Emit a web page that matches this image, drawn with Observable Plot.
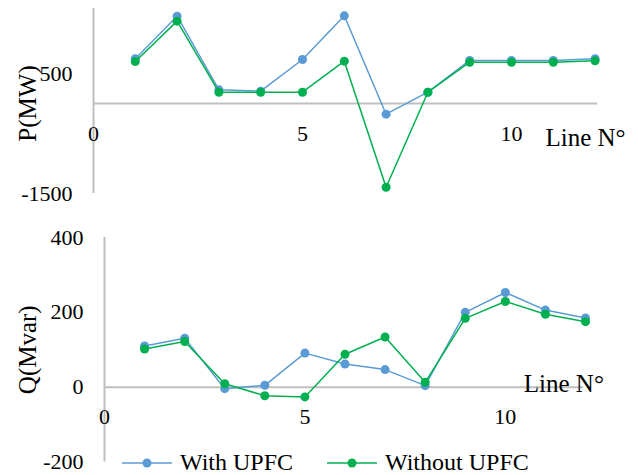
<!DOCTYPE html>
<html>
<head>
<meta charset="utf-8">
<script src="https://cdn.jsdelivr.net/npm/d3@7"></script>
<script src="https://cdn.jsdelivr.net/npm/@observablehq/plot@0.6"></script>
<style>
  html, body { margin: 0; padding: 0; background: #fff; }
  #wrap { position: relative; width: 638px; height: 475px; font-family: "Liberation Serif", "Times New Roman", serif; }
  #toppanel, #bottompanel { position: absolute; left: 0; }
  #toppanel { top: 0; }
  #bottompanel { top: 220px; }
  #legend { position: absolute; top: 449px; left: 0; width: 638px; height: 27px; font-size: 24px; color: #000; }
  .item { position: absolute; display: flex; align-items: center; white-space: nowrap; }
  .item svg { margin-right: 8px; }
  svg text { font-family: "Liberation Serif", "Times New Roman", serif !important; }
</style>
</head>
<body>
<div id="wrap">
  <div id="toppanel"></div>
  <div id="bottompanel"></div>
  <div id="legend"></div>
</div>
<script>
const lines = [1, 2, 3, 4, 5, 6, 7, 8, 9, 10, 11, 12];
const pWith    = [745, 1455, 228, 205, 733, 1461, -178, 188, 717, 717, 717, 745];
const pWithout = [700, 1372, 188, 188, 188, 705, -1395, 188, 688, 688, 688, 711];
const qWith    = [110, 131, -4, 5, 91, 62, 47, 4, 200, 253, 206, 185];
const qWithout = [102, 122, 9, -23, -26, 88, 134, 13, 184, 229, 195, 175];
const seriesNames = ["With UPFC", "Without UPFC"];
const colors = ["#5b9bd5", "#00b050"];
const xTicks = [0, 5, 10];
const pTicks = [500, -1500];
const qTicks = [400, 200, 0, -200];

const font = '"Liberation Serif", "Times New Roman", serif';
const grey = "#bfbfbf";

function rows(vals, name) { return lines.map((l, i) => ({line: l, value: vals[i], series: name})); }

function panel({withV, withoutV, yDomain, yTicks, height, mL, mR, mT, mB, yLabel, yLabelAt, zeroEnd, lineLabelX, lineLabelDy}) {
  const dWith = rows(withV, seriesNames[0]);
  const dWithout = rows(withoutV, seriesNames[1]);
  const svg = Plot.plot({
    width: 638, height,
    marginLeft: mL, marginRight: mR, marginTop: mT, marginBottom: mB,
    style: {fontFamily: font, fontSize: "22px", color: "#000", background: "#fff", overflow: "visible"},
    x: {domain: [0, 12], axis: null},
    y: {domain: yDomain, axis: null},
    marks: [
      Plot.ruleX([0], {y1: yDomain[0], y2: yDomain[1], stroke: grey, strokeWidth: 2}),
      Plot.ruleY([0], {x1: 0, x2: zeroEnd, stroke: grey, strokeWidth: 2}),
      Plot.text(yTicks, {x: 0, y: d => d, text: d => String(d), textAnchor: "end", dx: -21, fontSize: 22, fontFamily: font}),
      Plot.text(xTicks, {x: d => d, y: 0, text: d => String(d), dy: 30, fontSize: 22, fontFamily: font}),
      Plot.text([yLabel], {x: 0, y: yLabelAt, text: d => d, rotate: -90, fontSize: 25, fontFamily: font}),
      Plot.text(["Line N°"], {x: lineLabelX, y: 0, text: d => d, dy: lineLabelDy, fontSize: 25, fontFamily: font}),
      Plot.line(dWith, {x: "line", y: "value", stroke: colors[0], strokeWidth: 1.5}),
      Plot.dot(dWith, {x: "line", y: "value", r: 4.5, fill: colors[0]}),
      Plot.line(dWithout, {x: "line", y: "value", stroke: colors[1], strokeWidth: 1.5}),
      Plot.dot(dWithout, {x: "line", y: "value", r: 4.5, fill: colors[1]})
    ]
  });
  // move the rotated axis title to about 27px from the left edge
  svg.querySelectorAll("text").forEach(t => {
    if (t.textContent === yLabel) {
      const tr = t.getAttribute("transform") || "";
      const m = tr.match(/translate\(([-\d.]+),\s*([-\d.]+)\)/);
      if (m) {
        t.setAttribute("transform", tr.replace(m[0], `translate(27,${m[2]})`));
      } else {
        t.setAttribute("transform", `translate(${27 - mL},0) ` + tr);
      }
    }
  });
  return svg;
}

const topSvg = panel({
  withV: pWith, withoutV: pWithout, yDomain: [-1500, 1583], yTicks: pTicks,
  height: 210, mL: 93, mR: 43.4, mT: 8, mB: 17, yLabel: "P(MW)", yLabelAt: 0, zeroEnd: 12.06,
  lineLabelX: 11.77, lineLabelDy: 35
});
const bottomSvg = panel({
  withV: qWith, withoutV: qWithout, yDomain: [-200, 400], yTicks: qTicks,
  height: 255, mL: 104, mR: 53, mT: 17, mB: 13.5, yLabel: "Q(Mvar)", yLabelAt: 100, zeroEnd: 11.95,
  lineLabelX: 11.46, lineLabelDy: -3
});
document.getElementById("toppanel").appendChild(topSvg);
document.getElementById("bottompanel").appendChild(bottomSvg);

const legend = document.getElementById("legend");
const lefts = [122, 327];
seriesNames.forEach((name, i) => {
  const it = document.createElement("div");
  it.className = "item";
  it.style.left = lefts[i] + "px";
  it.innerHTML = `<svg width="50" height="14"><line x1="0" x2="50" y1="7" y2="7" stroke="${colors[i]}" stroke-width="1.5"/><circle cx="25" cy="7" r="4.5" fill="${colors[i]}"/></svg><span>${name}</span>`;
  legend.appendChild(it);
});
</script>
</body>
</html>
